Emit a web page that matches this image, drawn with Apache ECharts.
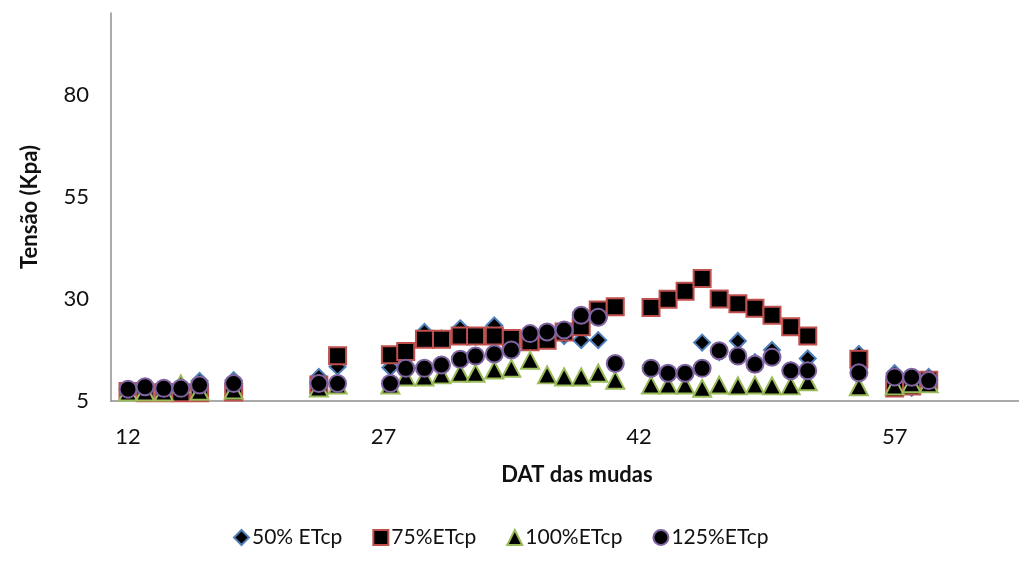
<!DOCTYPE html>
<html>
<head>
<meta charset="utf-8">
<script src="https://cdn.jsdelivr.net/npm/echarts@6/dist/echarts.min.js"></script>
<style>
  html, body { margin: 0; padding: 0; background: #ffffff; }
  #chart { width: 1019px; height: 563px; }
</style>
</head>
<body>
<div id="chart"></div>
<script>
// Days after transplanting (DAT) of each reading
const days = [12.0, 13.0, 14.1, 15.1, 16.2, 18.2, 23.2, 24.3, 27.4, 28.3, 29.4, 30.4,
              31.5, 32.4, 33.5, 34.5, 35.6, 36.6, 37.6, 38.6, 39.6, 40.6, 42.7, 43.7,
              44.7, 45.7, 46.7, 47.8, 48.8, 49.8, 50.9, 51.9, 54.9, 57.0, 58.0, 59.0];

// Soil water tension (kPa) per irrigation level
const etcp50  = [7.5, 7.5, 7.5, 7.8, 9.9, 10.1, 10.9, 13.4, 13.2, 16.0, 21.9, 20.3,
                 22.8, 20.8, 23.5, 20.0, 20.0, 20.2, 20.9, 19.9, 19.9, 14.0, 12.5, 11.5,
                 11.5, 19.3, 17.0, 19.7, 14.5, 17.5, 12.5, 15.4, 16.5, 11.8, 8.2, 10.9];
const etcp75  = [7.3, 7.0, 7.0, 7.0, 7.0, 7.2, 8.9, 16.1, 16.3, 17.1, 20.1, 20.1,
                 20.9, 20.9, 20.9, 20.3, 19.5, 19.9, 21.9, 23.2, 27.3, 28.1, 27.9, 29.9,
                 31.9, 35.0, 30.0, 28.8, 27.7, 26.0, 23.2, 20.9, 15.2, 8.2, 8.7, 10.1];
const etcp100 = [7.2, 7.2, 7.2, 9.2, 7.4, 7.7, 8.2, 8.9, 8.9, 10.9, 10.9, 11.4,
                 11.8, 11.8, 12.6, 13.0, 15.0, 11.4, 10.9, 10.9, 11.8, 10.1, 8.9, 8.9,
                 8.9, 8.1, 8.9, 8.7, 8.9, 8.7, 8.7, 9.7, 8.5, 8.7, 9.2, 9.2];
const etcp125 = [7.9, 8.5, 8.1, 8.1, 8.9, 9.3, 9.3, 9.3, 9.3, 13.0, 13.0, 13.8,
                 15.2, 16.0, 16.5, 17.5, 21.5, 21.9, 22.4, 26.0, 25.5, 14.2, 13.0, 11.8,
                 11.8, 13.0, 17.3, 16.0, 14.0, 15.7, 12.4, 12.4, 11.9, 10.9, 10.8, 10.0];

const seriesNames = ['50% ETcp', '75%ETcp', '100%ETcp', '125%ETcp'];
const xTickValues = [12, 27, 42, 57];
const yTickValues = [5, 30, 55, 80];

const FONT = 'Lato, "Open Sans", sans-serif';
const TEXT = '#111111';
const pairs = vals => days.map((d, i) => [d, vals[i]]);

const markerSeries = (name, vals, symbol, size, border) => ({
  name: name,
  type: 'scatter',
  data: pairs(vals),
  symbol: symbol,
  symbolSize: size,
  itemStyle: { color: '#000000', borderColor: border, borderWidth: 2, opacity: 1 },
  emphasis: { disabled: true },
  animation: false
});

const chart = echarts.init(document.getElementById('chart'), null, { renderer: 'canvas' });

chart.setOption({
  backgroundColor: '#ffffff',
  animation: false,
  grid: { left: 111, right: 0, top: 13, bottom: 162, containLabel: false },
  xAxis: {
    type: 'value',
    min: 11,
    max: 64.3,
    axisLine: { show: true, lineStyle: { color: '#8f8f8f', width: 1.5 } },
    axisTick: { show: false },
    splitLine: { show: false },
    axisLabel: { customValues: xTickValues, color: TEXT, fontSize: 22, fontFamily: FONT, margin: 25 },
    name: 'DAT das mudas',
    nameLocation: 'middle',
    nameGap: 63,
    nameTextStyle: { color: TEXT, fontSize: 22, fontWeight: 'bold', fontFamily: FONT, padding: [0, 0, 0, 24] }
  },
  yAxis: {
    type: 'value',
    min: 5,
    max: 100,
    axisLine: { show: true, lineStyle: { color: '#8f8f8f', width: 1.5 } },
    axisTick: { show: false },
    splitLine: { show: false },
    axisLabel: { customValues: yTickValues, color: TEXT, fontSize: 22, fontFamily: FONT, margin: 22 },
    name: 'Tensão (Kpa)',
    nameLocation: 'middle',
    nameGap: 70,
    nameTextStyle: { color: TEXT, fontSize: 22, fontWeight: 'bold', fontFamily: FONT }
  },
  legend: {
    left: 228,
    bottom: 10,
    itemWidth: 15,
    itemHeight: 15,
    itemGap: 30,
    textStyle: { color: TEXT, fontSize: 21, fontFamily: FONT, padding: [0, 0, 0, -2] },
    data: seriesNames
  },
  series: [
    markerSeries(seriesNames[0], etcp50, 'diamond', 16, '#4F81BD'),
    markerSeries(seriesNames[1], etcp75, 'rect', 17, '#C0504D'),
    markerSeries(seriesNames[2], etcp100, 'triangle', [18, 17], '#9BBB59'),
    markerSeries(seriesNames[3], etcp125, 'circle', 17, '#8064A2')
  ]
});
</script>
</body>
</html>
